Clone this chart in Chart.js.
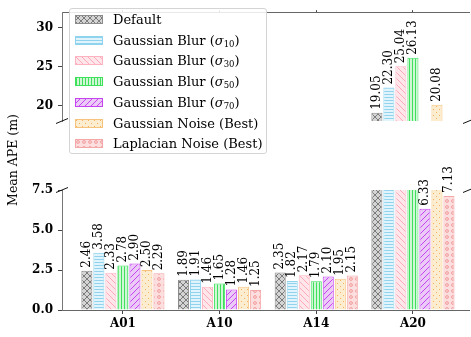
<!DOCTYPE html>
<html>
<head>
<meta charset="utf-8">
<script src="https://cdn.jsdelivr.net/npm/chart.js@4.4.1/dist/chart.umd.min.js"></script>
<style>
  body { margin: 0; background: #fff; }
  #wrap { position: relative; width: 471px; height: 337px; overflow: hidden; font-family: 'DejaVu Serif', serif; }
  #wrap canvas.plot { position: absolute; left: 0; top: 0; }
  #ylabel { position: absolute; left: -47px; top: 152px; width: 120px; text-align: center; font-size: 12.5px; line-height: 16px; transform: rotate(-90deg); color: #000; }
  #legend { position: absolute; left: 69px; top: 8px; width: 196px; height: 144px; border: 1px solid #d4d4d4; border-radius: 3px; background: rgba(255,255,255,0.85); }
  .row { position: absolute; left: 0; height: 16px; font-size: 13px; line-height: 16px; color: #000; white-space: nowrap; }
  .row canvas { position: absolute; left: 5px; top: 3px; }
  .row span { position: absolute; left: 43px; top: 0; }
  sub { font-size: 8.5px; vertical-align: -2px; line-height: 0; }
</style>
</head>
<body>
<div id="wrap">
  <canvas id="lower" class="plot" width="471" height="337"></canvas>
  <canvas id="upper" class="plot" width="471" height="337"></canvas>
  <div id="ylabel">Mean APE (m)</div>
  <div id="legend"></div>
</div>
<script>
const categories = ['A01', 'A10', 'A14', 'A20'];
const seriesNames = [
  'Default',
  'Gaussian Blur (<i>σ</i><sub>10</sub>)',
  'Gaussian Blur (<i>σ</i><sub>30</sub>)',
  'Gaussian Blur (<i>σ</i><sub>50</sub>)',
  'Gaussian Blur (<i>σ</i><sub>70</sub>)',
  'Gaussian Noise (Best)',
  'Laplacian Noise (Best)'
];
const valoresDefault = [2.46, 1.89, 2.35, 19.05];
const valoresBlur10 = [3.58, 1.91, 1.82, 22.30];
const valoresBlur30 = [2.33, 1.46, 2.17, 25.04];
const valoresBlur50 = [2.78, 1.65, 1.79, 26.13];
const valoresBlur70 = [2.90, 1.28, 2.10, 6.33];
const valoresNoiseGauss = [2.50, 1.46, 1.95, 20.08];
const valoresNoiseLaplace = [2.29, 1.25, 2.15, 7.13];
const ticksSuperior = [20, 25, 30];
const ticksInferior = [0, 2.5, 5, 7.5];

const series = [valoresDefault, valoresBlur10, valoresBlur30, valoresBlur50, valoresBlur70, valoresNoiseGauss, valoresNoiseLaplace];

// edge colour, fill colour, hatch colour, hatch kind
const estilos = [
  { edge: '#8c8c8c', fill: '#d4d4d4', hatch: '#7c7c7c', kind: 'x' },
  { edge: '#8fd3ee', fill: '#e2f4fb', hatch: '#8fd3ee', kind: '-' },
  { edge: '#ffb3c0', fill: '#ffe6eb', hatch: '#ffa8b8', kind: '\\' },
  { edge: '#3fe05c', fill: '#cff7d5', hatch: '#3fe05c', kind: '|' },
  { edge: '#c544f0', fill: '#eccaf8', hatch: '#c544f0', kind: '/' },
  { edge: '#f6c27c', fill: '#fdedd0', hatch: '#f2b25e', kind: '.' },
  { edge: '#f5a6a6', fill: '#fcdede', hatch: '#f29a9a', kind: 'o' }
];

const fonte = "'DejaVu Serif', serif";

function criarTile(estilo) {
  const s = 6;
  const c = document.createElement('canvas');
  c.width = s; c.height = s;
  const g = c.getContext('2d');
  g.fillStyle = estilo.fill;
  g.fillRect(0, 0, s, s);
  g.strokeStyle = estilo.hatch;
  g.fillStyle = estilo.hatch;
  g.lineWidth = 1;
  g.beginPath();
  if (estilo.kind === '-') {
    g.moveTo(0, 1.5); g.lineTo(s, 1.5);
    g.moveTo(0, 4.5); g.lineTo(s, 4.5);
  } else if (estilo.kind === '|') {
    g.moveTo(1.5, 0); g.lineTo(1.5, s);
    g.moveTo(4.5, 0); g.lineTo(4.5, s);
  } else if (estilo.kind === '/' || estilo.kind === 'x') {
    g.moveTo(-1, s + 1); g.lineTo(s + 1, -1);
    g.moveTo(-1, 1); g.lineTo(1, -1);
    g.moveTo(s - 1, s + 1); g.lineTo(s + 1, s - 1);
  }
  if (estilo.kind === '\\' || estilo.kind === 'x') {
    g.moveTo(-1, -1); g.lineTo(s + 1, s + 1);
    g.moveTo(s - 1, -1); g.lineTo(s + 1, 1);
    g.moveTo(-1, s - 1); g.lineTo(1, s + 1);
  }
  g.stroke();
  if (estilo.kind === '.') {
    g.fillRect(1, 1, 1, 1);
    g.fillRect(4, 4, 1, 1);
  } else if (estilo.kind === 'o') {
    g.beginPath();
    g.arc(3, 3, 1.4, 0, Math.PI * 2);
    g.stroke();
  }
  return c;
}

const tiles = estilos.map(criarTile);

function criarDatasets(ctx) {
  return series.map((valores, i) => ({
    label: seriesNames[i],
    data: valores.map((v, j) => ({ x: j, y: v })),
    backgroundColor: ctx.createPattern(tiles[i], 'repeat'),
    borderColor: estilos[i].edge,
    borderWidth: 1,
    categoryPercentage: 0.87,
    barPercentage: 0.92
  }));
}

const rotulosValores = {
  id: 'rotulosValores',
  afterDatasetsDraw(chart) {
    const ctx = chart.ctx;
    const escalaY = chart.scales.y;
    ctx.save();
    ctx.font = '12px ' + fonte;
    ctx.fillStyle = '#000';
    chart.data.datasets.forEach((ds, i) => {
      chart.getDatasetMeta(i).data.forEach((barra, j) => {
        const v = ds.data[j].y;
        if (v < escalaY.min || v > escalaY.max) return;
        ctx.save();
        ctx.translate(barra.x, barra.y - 3);
        ctx.rotate(-Math.PI / 2);
        ctx.textAlign = 'left';
        ctx.textBaseline = 'middle';
        ctx.fillText(v.toFixed(2), 0, 0);
        ctx.restore();
      });
    });
    ctx.restore();
  }
};

const marcasQuebra = {
  id: 'marcasQuebra',
  afterDraw(chart, args, opts) {
    const ctx = chart.ctx;
    const area = chart.chartArea;
    const y = opts.lado === 'baixo' ? area.bottom : area.top;
    ctx.save();
    ctx.strokeStyle = '#111';
    ctx.lineWidth = 1;
    [area.left, area.right].forEach(x => {
      ctx.beginPath();
      ctx.moveTo(x - 6, y + 2.5);
      ctx.lineTo(x + 6, y - 2.5);
      ctx.stroke();
    });
    ctx.restore();
  }
};

function opcoes(parte) {
  const superior = parte === 'superior';
  const yTicks = superior ? ticksSuperior : ticksInferior;
  return {
    responsive: false,
    animation: false,
    layout: { padding: superior ? { top: 0, right: 2, bottom: 216, left: 0 } : { top: 190, right: 2, bottom: 0, left: 0 } },
    plugins: {
      legend: { display: false },
      tooltip: { enabled: false },
      marcasQuebra: { lado: superior ? 'baixo' : 'cima' }
    },
    scales: {
      x: {
        type: 'linear',
        position: superior ? 'top' : 'bottom',
        offset: false,
        min: -0.63,
        max: 3.58,
        afterBuildTicks: s => { s.ticks = categories.map((c, i) => ({ value: i })); },
        afterFit: s => { s.height = superior ? 2 : 27; },
        ticks: {
          display: !superior,
          callback: v => categories[Math.round(v)],
          font: { family: fonte, size: 12, weight: 'bold' },
          color: '#000',
          padding: 3,
          maxRotation: 0
        },
        grid: { offset: false, drawOnChartArea: false, drawTicks: true, tickLength: superior ? 2 : 4, color: '#444' },
        border: { display: true, color: '#666' }
      },
      y: {
        min: superior ? 18 : 0,
        max: superior ? 32 : 7.5,
        afterBuildTicks: s => { s.ticks = yTicks.map(v => ({ value: v })); },
        afterFit: s => { s.width = 62; },
        ticks: {
          callback: v => superior ? String(v) : v.toFixed(1),
          font: { family: fonte, size: 12, weight: 'bold' },
          color: '#000',
          padding: 5
        },
        grid: { drawOnChartArea: false, drawTicks: true, tickLength: 4, color: '#444' },
        border: { display: true, color: '#777' }
      }
    }
  };
}

const ctxInferior = document.getElementById('lower').getContext('2d');
const ctxSuperior = document.getElementById('upper').getContext('2d');

new Chart(ctxInferior, {
  type: 'bar',
  data: { datasets: criarDatasets(ctxInferior) },
  options: opcoes('inferior'),
  plugins: [rotulosValores, marcasQuebra]
});

new Chart(ctxSuperior, {
  type: 'bar',
  data: { datasets: criarDatasets(ctxSuperior) },
  options: opcoes('superior'),
  plugins: [rotulosValores, marcasQuebra]
});

// legenda em HTML, com as mesmas hachuras
const divLegenda = document.getElementById('legend');
seriesNames.forEach((nome, i) => {
  const linha = document.createElement('div');
  linha.className = 'row';
  linha.style.top = (3 + i * 20.7) + 'px';
  const amostra = document.createElement('canvas');
  amostra.width = 28; amostra.height = 9;
  const g = amostra.getContext('2d');
  g.fillStyle = g.createPattern(tiles[i], 'repeat');
  g.fillRect(0, 0, 28, 9);
  g.strokeStyle = estilos[i].edge;
  g.lineWidth = 1;
  g.strokeRect(0.5, 0.5, 27, 8);
  const texto = document.createElement('span');
  texto.innerHTML = nome;
  linha.appendChild(amostra);
  linha.appendChild(texto);
  divLegenda.appendChild(linha);
});
</script>
</body>
</html>
